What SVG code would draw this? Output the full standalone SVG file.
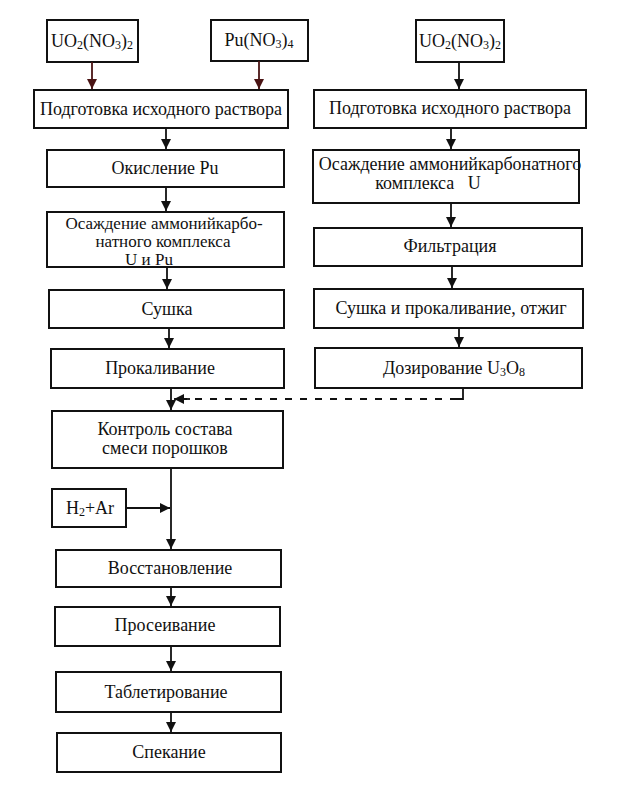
<svg xmlns="http://www.w3.org/2000/svg" width="623" height="811" viewBox="0 0 623 811">
<defs>
<style>
.box{fill:#fff;stroke:#111;stroke-width:2}
.t{font-family:"Liberation Serif","Times New Roman",serif;font-size:18px;fill:#111;text-anchor:middle}
.m{font-size:17px}
.s{font-size:12px}
.c{fill:none;stroke:#111;stroke-width:1.8}
.cr{fill:none;stroke:#4a1414;stroke-width:1.8}
.d{fill:none;stroke:#111;stroke-width:1.8;stroke-dasharray:7 8}
</style>
<marker id="a" viewBox="0 0 10 10" refX="10" refY="5" markerWidth="10" markerHeight="10" markerUnits="userSpaceOnUse" orient="auto">
<path d="M0,0 L10,5 L0,10 Z" fill="#111"/>
</marker>
<marker id="ar" viewBox="0 0 10 10" refX="10" refY="5" markerWidth="10" markerHeight="10" markerUnits="userSpaceOnUse" orient="auto">
<path d="M0,0 L10,5 L0,10 Z" fill="#4a1414"/>
</marker>
</defs>
<rect width="623" height="811" fill="#fff"/>

<g id="n-uo2-left"><rect class="box" x="47" y="20" width="91" height="42"/>
<text class="t" x="92" y="47">UO<tspan class="s" dy="2">2</tspan><tspan dy="-2">(NO</tspan><tspan class="s" dy="2">3</tspan><tspan dy="-2">)</tspan><tspan class="s" dy="2">2</tspan></text></g>
<g id="n-pu"><rect class="box" x="211" y="20" width="97" height="41"/>
<text class="t" x="259" y="46">Pu(NO<tspan class="s" dy="2">3</tspan><tspan dy="-2">)</tspan><tspan class="s" dy="2">4</tspan></text></g>
<g id="n-uo2-right"><rect class="box" x="416" y="20" width="88" height="42"/>
<text class="t" x="460" y="47">UO<tspan class="s" dy="2">2</tspan><tspan dy="-2">(NO</tspan><tspan class="s" dy="2">3</tspan><tspan dy="-2">)</tspan><tspan class="s" dy="2">2</tspan></text></g>

<g id="n-prep-left"><rect class="box" x="34" y="90" width="254" height="38"/>
<text class="t" x="161" y="115">Подготовка исходного раствора</text></g>
<g id="n-prep-right"><rect class="box" x="314" y="90" width="272" height="38"/>
<text class="t" x="450" y="114">Подготовка исходного раствора</text></g>

<g id="n-oxid"><rect class="box" x="47" y="150" width="237" height="37"/>
<text class="t" x="165" y="174">Окисление Pu</text></g>
<g id="n-prec-left"><rect class="box" x="47" y="212" width="237" height="55"/>
<text class="t m" x="164" y="229">Осаждение аммонийкарбо-</text>
<text class="t m" x="163" y="247">натного комплекса</text>
<text class="t m" x="149" y="265">U и Pu</text></g>
<g id="n-dry"><rect class="box" x="49" y="290" width="235" height="38"/>
<text class="t" x="167" y="315">Сушка</text></g>
<g id="n-calc"><rect class="box" x="51" y="349" width="233" height="39"/>
<text class="t" x="160" y="374">Прокаливание</text></g>

<g id="n-prec-right"><rect class="box" x="313" y="150" width="266" height="53"/>
<text class="t" x="450" y="170">Осаждение аммонийкарбонатного</text>
<text class="t" x="428" y="189" xml:space="preserve">комплекса   U</text></g>
<g id="n-filt"><rect class="box" x="314" y="228" width="268" height="38"/>
<text class="t" x="450" y="252">Фильтрация</text></g>
<g id="n-dry-right"><rect class="box" x="314" y="289" width="269" height="39"/>
<text class="t" x="451" y="314">Сушка и прокаливание, отжиг</text></g>
<g id="n-dose"><rect class="box" x="315" y="348" width="267" height="40"/>
<text class="t" x="454" y="374">Дозирование U<tspan class="s" dy="2">3</tspan><tspan dy="-2">O</tspan><tspan class="s" dy="2">8</tspan></text></g>

<g id="n-control"><rect class="box" x="52" y="411" width="231" height="57"/>
<text class="t" x="165" y="435">Контроль состава</text>
<text class="t" x="165" y="454">смеси порошков</text></g>
<g id="n-h2ar"><rect class="box" x="52" y="489" width="74" height="38"/>
<text class="t" x="90" y="514">H<tspan class="s" dy="2">2</tspan><tspan dy="-2">+Ar</tspan></text></g>
<g id="n-red"><rect class="box" x="56" y="550" width="225" height="37"/>
<text class="t" x="170" y="574">Восстановление</text></g>
<g id="n-sieve"><rect class="box" x="55" y="607" width="225" height="39"/>
<text class="t" x="165" y="631">Просеивание</text></g>
<g id="n-tab"><rect class="box" x="56" y="672" width="225" height="40"/>
<text class="t" x="166" y="698">Таблетирование</text></g>
<g id="n-sint"><rect class="box" x="57" y="733" width="224" height="39"/>
<text class="t" x="169" y="758">Спекание</text></g>

<g id="connectors">
<line class="cr" x1="92" y1="62" x2="92" y2="89" marker-end="url(#ar)"/>
<line class="cr" x1="259" y1="61" x2="259" y2="89" marker-end="url(#ar)"/>
<line class="c" x1="459" y1="62" x2="459" y2="89" marker-end="url(#a)"/>
<line class="c" x1="166" y1="128" x2="166" y2="149" marker-end="url(#a)"/>
<line class="c" x1="166" y1="187" x2="166" y2="211" marker-end="url(#a)"/>
<line class="c" x1="167" y1="267" x2="167" y2="289" marker-end="url(#a)"/>
<line class="c" x1="169" y1="328" x2="169" y2="348" marker-end="url(#a)"/>
<line class="c" x1="171" y1="388" x2="171" y2="410" marker-end="url(#a)"/>
<line class="c" x1="451" y1="128" x2="451" y2="149" marker-end="url(#a)"/>
<line class="c" x1="451" y1="203" x2="451" y2="227" marker-end="url(#a)"/>
<line class="c" x1="452" y1="266" x2="452" y2="288" marker-end="url(#a)"/>
<line class="c" x1="459" y1="328" x2="459" y2="347" marker-end="url(#a)"/>
<path class="c" d="M463,388 V399 H457"/>
<path class="d" d="M457,399 H178"/>
<line class="c" x1="190" y1="399" x2="174" y2="399" marker-end="url(#a)"/>
<line class="c" x1="171" y1="468" x2="171" y2="549" marker-end="url(#a)"/>
<line class="c" x1="126" y1="508" x2="170" y2="508" marker-end="url(#a)"/>
<line class="c" x1="171" y1="587" x2="171" y2="606" marker-end="url(#a)"/>
<line class="c" x1="171" y1="646" x2="171" y2="671" marker-end="url(#a)"/>
<line class="c" x1="171" y1="712" x2="171" y2="732" marker-end="url(#a)"/>
</g>
</svg>
